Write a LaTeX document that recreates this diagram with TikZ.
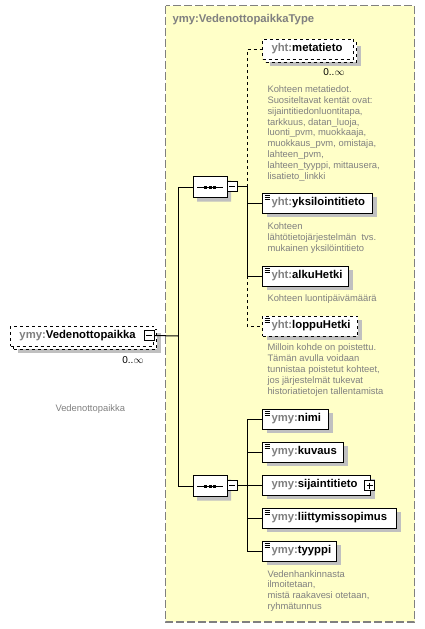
\documentclass[tikz,border=0pt]{standalone}
\usepackage{fontspec}
\setmainfont{Liberation Sans}
\usetikzlibrary{shadows,shapes.misc}
\definecolor{typefill}{RGB}{255,255,200}
\definecolor{pfxgray}{RGB}{128,128,128}
\definecolor{shade}{RGB}{192,192,192}
\newcommand{\pfx}[1]{\textcolor{pfxgray}{#1:}}
\tikzset{
 elem/.style={draw, fill=white, anchor=west, text width=#1, align=left, inner xsep=0pt,
   minimum height=20, font=\fontsize{11.3}{13}\selectfont\bfseries},
 shd/.style={drop shadow={shadow xshift=4pt, shadow yshift=-4pt, fill=shade, opacity=1}},
 simple/.style={path picture={\foreach \k in {2,4,6}
   \draw[solid, line width=.8pt] ([shift={(2pt,-\k pt)}]path picture bounding box.north west) -- ++(5.5pt,0pt);}},
 desc/.style={anchor=north west, align=left, inner sep=0pt, text=pfxgray,
   font=\fontsize{9.4}{10.9}\selectfont},
 occ/.style={anchor=base east, inner sep=0pt, font=\fontsize{10}{12}\selectfont},
 pm/.style={draw, fill=white, minimum size=10, inner sep=0pt, line width=.7pt},
 minus/.style={pm, path picture={\draw ([xshift=2pt]path picture bounding box.west) -- ([xshift=-2pt]path picture bounding box.east);}},
 plus/.style={pm, path picture={\draw ([xshift=2pt]path picture bounding box.west) -- ([xshift=-2pt]path picture bounding box.east);
   \draw ([yshift=-2pt]path picture bounding box.north) -- ([yshift=2pt]path picture bounding box.south);}},
 seq/.style={chamfered rectangle, chamfered rectangle xsep=5pt, chamfered rectangle ysep=5pt,
   draw, fill=white, minimum width=34, minimum height=21, inner sep=0pt, shd,
   path picture={\draw ([xshift=4pt]path picture bounding box.west) -- ([xshift=-4pt]path picture bounding box.east);
   \fill[black] ([xshift=-6pt,yshift=-1.5pt]path picture bounding box.center) rectangle ++(3pt,3pt);
   \fill[black] ([xshift=-1.5pt,yshift=-1.5pt]path picture bounding box.center) rectangle ++(3pt,3pt);
   \fill[black] ([xshift=3pt,yshift=-1.5pt]path picture bounding box.center) rectangle ++(3pt,3pt);}},
}
\begin{document}
\begin{tikzpicture}[x=1pt,y=-1pt,line width=1pt]
\useasboundingbox (0,0) rectangle (425,629);
%Typ
\draw[pfxgray, line width=1.3pt, dash pattern=on 8pt off 3pt, fill=typefill] (165.5,5.5) rectangle (414.5,622);
\node[anchor=base west, inner sep=0pt, text=pfxgray, font=\fontsize{11.3}{13}\selectfont\bfseries] (typ) at (172,23) {ymy:VedenottopaikkaType};
%Hauptelement
\node[elem=143, dashed, shd] (mainback) at (13,339) {};
\node[elem=143, dashed] (main) at (10,336) {\hspace*{9pt}\pfx{ymy}Vedenottopaikka};
\node[minus] (mainm) at (149,335.5) {};
\node[occ] (mainocc) at (144,363) {0..$\infty$};
\node[desc] (maindesc) at (55,404) {Vedenottopaikka};
%Sequenzen
\node[seq] (s1) at (210,187) {};
\node[minus] (s1m) at (232.3,186.5) {};
\node[seq] (s2) at (210,486) {};
\node[minus] (s2m) at (232.3,485.5) {};
\coordinate (b0) at (178,336);
\coordinate (b1) at (247,186.5);
\coordinate (b2) at (247,485.5);
%Elemente oben
\node[elem=91, dashed, shd] (metaback) at (265,52) {};
\node[elem=91, dashed] (meta) at (262,49) {\hspace*{9pt}\pfx{yht}metatieto};
\node[occ] (metaocc) at (345,75) {0..$\infty$};
\node[desc] (metadesc) at (267,85) {Kohteen metatiedot.\\Suositeltavat kentät ovat:\\sijaintitiedonluontitapa,\\tarkkuus, datan\_luoja,\\luonti\_pvm, muokkaaja,\\muokkaus\_pvm, omistaja,\\lahteen\_pvm,\\lahteen\_tyyppi, mittausera,\\lisatieto\_linkki};
\node[elem=110, simple, shd] (yks) at (262,203) {\hspace*{9pt}\pfx{yht}yksilointitieto};
\node[desc] (yksdesc) at (267,222.5) {Kohteen\\lähtötietojärjestelmän\ \ tvs.\\mukainen yksilöintitieto};
\node[elem=86, simple, shd] (alku) at (262,276) {\hspace*{9pt}\pfx{yht}alkuHetki};
\node[desc] (alkudesc) at (267,294.5) {Kohteen luontipäivämäärä};
\node[elem=95, simple, dashed, shd] (loppu) at (262,326) {\hspace*{9pt}\pfx{yht}loppuHetki};
\node[desc] (loppudesc) at (267,343.5) {Milloin kohde on poistettu.\\Tämän avulla voidaan\\tunnistaa poistetut kohteet,\\jos järjestelmät tukevat\\historiatietojen tallentamista};
%Elemente unten
\node[elem=66, simple, shd] (nimi) at (262,419) {\hspace*{9pt}\pfx{ymy}nimi};
\node[elem=81, simple, shd] (kuvaus) at (262,452) {\hspace*{9pt}\pfx{ymy}kuvaus};
\node[elem=108, shd] (sijainti) at (262,485) {\hspace*{9pt}\pfx{ymy}sijaintitieto};
\node[plus] (sijaintip) at (369.5,485.5) {};
\node[elem=134, simple, shd] (liitty) at (262,518) {\hspace*{9pt}\pfx{ymy}liittymissopimus};
\node[elem=74, simple, shd] (tyyppi) at (262,551) {\hspace*{9pt}\pfx{ymy}tyyppi};
\node[desc] (tyyppidesc) at (267,569.7) {Vedenhankinnasta\\ilmoitetaan,\\mistä raakavesi otetaan,\\ryhmätunnus};
%Linien
\draw (mainm.east) -- (b0);
\draw (b0) |- (s1.west);
\draw (b0) |- (s2.west);
\draw (s1m.east) -- (b1);
\draw[dashed] (b1) |- (meta.west);
\draw (b1) |- (yks.west);
\draw (b1) |- (alku.west);
\draw[dashed] (alku.west -| b1) |- (loppu.west);
\draw (s2m.east) -- (b2);
\draw (b2) |- (nimi.west);
\draw (b2) |- (kuvaus.west);
\draw (b2) |- (sijainti.west);
\draw (b2) |- (liitty.west);
\draw (b2) |- (tyyppi.west);
\end{tikzpicture}
\end{document}
